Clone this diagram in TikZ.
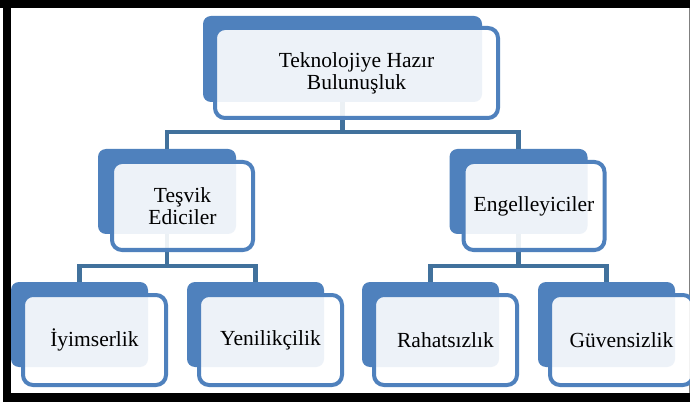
\documentclass[tikz,border=0pt]{standalone}
\usepackage{fontspec}
\setmainfont{Liberation Serif}
\usetikzlibrary{calc}

\definecolor{boxblue}{HTML}{4F81BD}
\definecolor{linkblue}{HTML}{41719C}

\tikzset{
  backbox/.style={rectangle, rounded corners=8pt, fill=boxblue, inner sep=0pt},
  frontbox/.style={rectangle, rounded corners=10pt, draw=boxblue, line width=4pt,
    fill=white, fill opacity=0.9, text opacity=1, align=center, inner sep=0pt,
    font=\rmfamily\fontsize{21.5}{22}\selectfont},
  link/.style={draw=linkblue, line width=4.5pt},
}

\begin{document}
\begin{tikzpicture}[x=1pt, y=-1pt]
        % Frame
        \useasboundingbox (0,0) rectangle (690,403);
        \fill[white] (0,0) rectangle (690,403);
        \fill[black] (0,0) rectangle (690,8);
        \fill[black] (3,0) rectangle (11,401);
        \fill[black] (3,393) rectangle (690,402);
        \draw[gray, line width=1pt] (689,8) -- (689,393);

        % Back boxes
        \node[backbox, minimum width=279pt, minimum height=86pt] (root-b) at (342.5,59) {};
        \node[backbox, minimum width=138pt, minimum height=85pt] (tes-b) at (167,191.5) {};
        \node[backbox, minimum width=138pt, minimum height=85pt] (eng-b) at (518.5,191.5) {};
        \foreach \x/\name in {79.5/iyi, 255.5/yen, 430.5/rah, 606.5/guv} {
            \node[backbox, minimum width=137pt, minimum height=85pt] (\name-b) at (\x,324.5) {};
        }

        % Connectors
        \draw[link] (root-b.south) -- ++(0,30) -| (tes-b.north);
        \draw[link] (root-b.south) -- ++(0,30) -| (eng-b.north);
        \draw[link] (tes-b.south) -- ++(0,32) -| (iyi-b.north);
        \draw[link] (tes-b.south) -- ++(0,32) -| (yen-b.north);
        \draw[link] (eng-b.south) -- ++(0,32) -| (rah-b.north);
        \draw[link] (eng-b.south) -- ++(0,32) -| (guv-b.north);

        % Front boxes with labels
        \node[frontbox, minimum width=283pt, minimum height=90pt] (root) at ($(root-b)+(14,14)$) {Teknolojiye Hazır\\Bulunuşluk};
        \node[frontbox, minimum width=141pt, minimum height=88pt] (tes) at ($(tes-b)+(15.5,14.5)$) {Teşvik\\Ediciler};
        \node[frontbox, minimum width=141pt, minimum height=88pt] (eng) at ($(eng-b)+(15.5,14.5)$) {Engelleyiciler};
        \foreach \name/\label in {iyi/İyimserlik, yen/Yenilikçilik, rah/Rahatsızlık, guv/Güvensizlik} {
            \node[frontbox, minimum width=143pt, minimum height=90pt] (\name) at ($(\name-b)+(15,15.5)$) {\label};
        }
\end{tikzpicture}
\end{document}
